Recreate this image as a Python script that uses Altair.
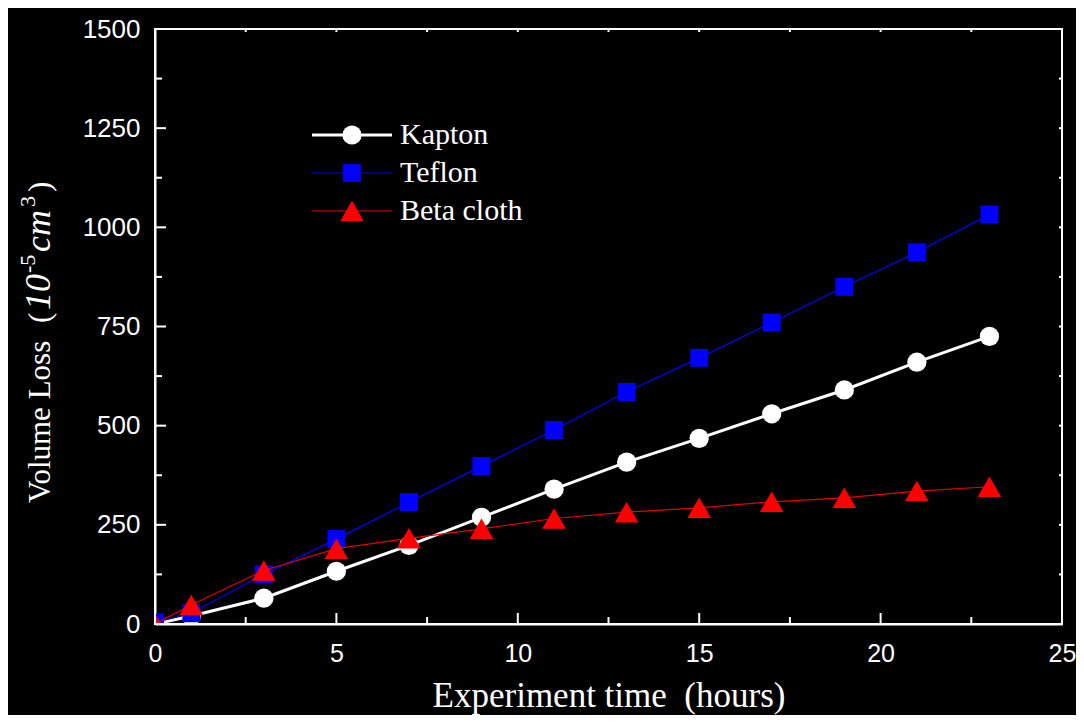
import altair as alt
import pandas as pd

# ---------------- data ----------------
hours = [0, 1, 3, 5, 7, 9, 11, 13, 15, 17, 19, 21, 23]
kapton = [0, 20, 65, 133, 198, 269, 340, 408, 468, 530, 590, 660, 725]
teflon = [4, 27, 125, 214, 307, 398, 489, 585, 671, 760, 850, 937, 1032]
beta_cloth = [0, 48, 135, 190, 216, 240, 266, 282, 293, 308, 318, 335, 346]

series_names = ["Kapton", "Teflon", "Beta cloth"]
series_values = [kapton, teflon, beta_cloth]

x_major = [0, 5, 10, 15, 20, 25]
x_minor = [2.5, 7.5, 12.5, 17.5, 22.5]
y_major = [0, 250, 500, 750, 1000, 1250, 1500]
y_minor = [125, 375, 625, 875, 1125, 1375]

x_title = "Experiment time\u00a0 (hours)"
# y title pieces: (text, italic, superscript)
y_title_parts = [("Volume Loss", False, False), ("(", False, False), ("10", True, False),
                 ("-5", False, True), ("cm", True, False), ("3", False, True), (")", False, False)]

# ---------------- styles ----------------
marker_colors = ["#ffffff", "#0000ff", "#ff0000"]
line_colors = ["#ffffff", "#0000ff", "#e00000"]
line_widths = [3, 1.2, 1.2]
shapes = ["circle", "square", "triangle-up"]
sizes = [370, 320, 560]

W, H = 907, 595
SANS = "Liberation Sans"
SERIF = "Liberation Serif"

x_scale = alt.Scale(domain=[0, 25], nice=False, zero=False)
y_scale = alt.Scale(domain=[0, 1500], nice=False, zero=False)

x_axis = alt.Axis(values=x_major, labelFont=SANS, labelFontSize=25, labelColor="white",
                  labelPadding=17, labelFlush=False, labelOverlap=False, ticks=False,
                  grid=False, domain=True, domainColor="white", domainWidth=2,
                  format="d", titleFont=SERIF, titleFontSize=35, titleFontWeight="normal",
                  titleColor="white", titlePadding=12)
y_axis = alt.Axis(values=y_major, labelFont=SANS, labelFontSize=26, labelColor="white",
                  labelPadding=15, labelFlush=False, labelOverlap=False, ticks=False,
                  grid=False, domain=True, domainColor="white", domainWidth=2, format="d")


def X(field):
    return alt.X(field, type="quantitative", scale=x_scale, axis=x_axis, title=x_title)


def Y(field):
    return alt.Y(field, type="quantitative", scale=y_scale, axis=y_axis, title=None)


layers = []

# series lines and markers
for name, vals, mc, lc, lw, shp, sz in zip(series_names, series_values, marker_colors,
                                          line_colors, line_widths, shapes, sizes):
    df = pd.DataFrame({"hours": hours, "value": vals, "series": name})
    layers.append(alt.Chart(df).mark_line(color=lc, strokeWidth=lw, clip=True)
                  .encode(x=X("hours"), y=Y("value")))
    layers.append(alt.Chart(df).mark_point(shape=shp, size=sz, filled=True, color=mc,
                                           opacity=1, clip=True)
                  .encode(x=X("hours"), y=Y("value")))


# inward ticks
def xticks(vals, length, top=False):
    df = pd.DataFrame({"t": vals})
    if top:
        return alt.Chart(df).mark_rule(color="white", strokeWidth=2).encode(
            x=X("t"), y=alt.value(0), y2=alt.value(length))
    return alt.Chart(df).mark_rule(color="white", strokeWidth=2).encode(
        x=X("t"), y=alt.value(H), y2=alt.value(H - length))


def yticks(vals, length, right=False):
    df = pd.DataFrame({"t": vals})
    if right:
        return alt.Chart(df).mark_rule(color="white", strokeWidth=2).encode(
            y=Y("t"), x=alt.value(W), x2=alt.value(W - length))
    return alt.Chart(df).mark_rule(color="white", strokeWidth=2).encode(
        y=Y("t"), x=alt.value(0), x2=alt.value(length))


layers += [xticks(x_major, 11), xticks(x_minor, 7), xticks(x_major, 3, True),
           xticks(x_minor, 3, True), yticks(y_major, 11), yticks(y_minor, 7),
           yticks(y_major, 3, True), yticks(y_minor, 3, True)]

# legend (manual)
for i, (name, mc, lc, lw, shp, sz) in enumerate(zip(series_names, marker_colors, line_colors,
                                                  line_widths, shapes, sizes)):
    ry = 106 + 38 * i
    ldf = pd.DataFrame({"series": [name]})
    base = alt.Chart(ldf)
    layers.append(base.mark_rule(color=lc, strokeWidth=lw).encode(
        x=alt.value(157), x2=alt.value(237), y=alt.value(ry)))
    layers.append(base.mark_point(shape=shp, size=sz, filled=True, color=mc, opacity=1).encode(
        x=alt.value(197), y=alt.value(ry)))
    layers.append(base.mark_text(align="left", baseline="middle", font=SERIF, fontSize=30,
                                 color="white").encode(
        x=alt.value(245), y=alt.value(ry), text="series:N"))

# y title built from pieces (rotated, reading bottom to top)
starts = [474, 294, 281, 244, 223, 178, 163]   # start of each piece along the axis
for (txt, italic, sup), y0 in zip(y_title_parts, starts):
    tdf = pd.DataFrame({"t": [txt]})
    layers.append(alt.Chart(tdf).mark_text(
        angle=270, align="left", baseline="alphabetic", font=SERIF,
        fontSize=22 if sup else (36 if italic else 31),
        fontStyle="italic" if italic else "normal", color="white").encode(
        x=alt.value(-120 if sup else -105), y=alt.value(y0), text="t:N"))

chart = alt.layer(*layers).properties(
    width=W, height=H,
    background="black",
    padding={"left": 147, "top": 21, "right": 14, "bottom": 91},
    autosize=alt.AutoSizeParams(type="none"),
).configure_view(stroke="white", strokeWidth=2)

chart.save("out.html", embed_options={"renderer": "svg", "actions": False})
